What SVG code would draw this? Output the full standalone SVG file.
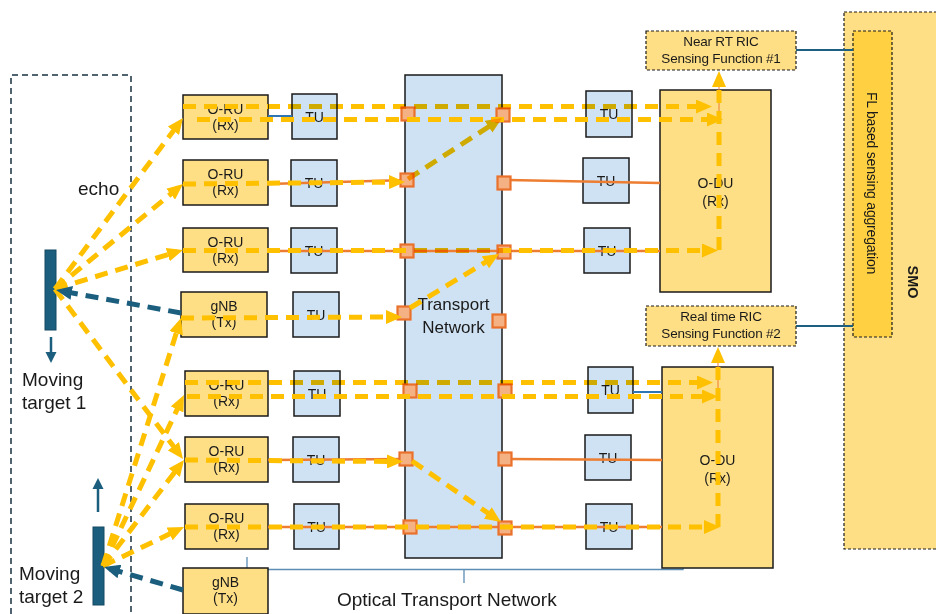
<svg xmlns="http://www.w3.org/2000/svg" width="936" height="614" viewBox="0 0 936 614">
<defs>
<style>
text{font-family:"Liberation Sans",Arial,sans-serif;fill:#1a1a1a}
.t14{font-size:14px;text-anchor:middle}
.t13{font-size:13.5px;text-anchor:middle;letter-spacing:-0.2px}
.big{font-size:19px}
.box{fill:#ffdf85;stroke:#1a1a1a;stroke-width:1.5}
.tu{fill:#cfe2f3;stroke:#1a1a1a;stroke-width:1.5}
.dbox{fill:#ffdf85;stroke:#1a1a1a;stroke-width:1.2;stroke-dasharray:3 2}
.fl{fill:#ffd042;stroke:#1a1a1a;stroke-width:1.2;stroke-dasharray:3 2}
.frame{fill:none;stroke:#1a3142;stroke-width:1.5;stroke-dasharray:6 4}
.otn{fill:none;stroke:#5b8db5;stroke-width:1.3}
.link{fill:none;stroke:#1d5f80;stroke-width:2}
.or{fill:none;stroke:#ed7d31;stroke-width:2.5}
.thin{fill:none;stroke:#ed7d31;stroke-width:1}
.bl{fill:none;stroke:#2e75b6;stroke-width:2.2}
.port{fill:#f4b183;stroke:#e9712c;stroke-width:2.2}
.y{fill:none;stroke:#ffc000;stroke-width:5;stroke-dasharray:13 8}
.mx{mix-blend-mode:multiply}
.ya{marker-end:url(#ah)}
.bd{fill:none;stroke:#1b5e7e;stroke-width:5;stroke-dasharray:13 8;marker-end:url(#bh)}
.tgt{fill:#1b5e7e;stroke:#144a63;stroke-width:1}
.move{fill:none;stroke:#1b5e7e;stroke-width:2.5}
</style>
<marker id="ah" markerUnits="userSpaceOnUse" markerWidth="16" markerHeight="14" refX="10" refY="7" orient="auto" viewBox="0 0 16 14"><path d="M0,0 L16,7 L0,14 z" fill="#ffc000"/></marker>
<marker id="bh" markerUnits="userSpaceOnUse" markerWidth="16" markerHeight="14" refX="10" refY="7" orient="auto" viewBox="0 0 16 14"><path d="M0,0 L16,7 L0,14 z" fill="#1b5e7e"/></marker>
</defs>

<!-- sensing area frame -->
<path class="frame" d="M11,614 V75 H131 V614"/>
<text class="big" x="78" y="195">echo</text>

<!-- optical transport network span -->
<g id="otn-span">
<path class="otn" d="M247,557 V569.5 H683 V557 M464,569.5 V583"/>
<text class="big" x="337" y="606">Optical Transport Network</text>
</g>

<!-- moving targets -->
<g id="target-1">
<rect class="tgt" x="45" y="250" width="11" height="80"/>
<path class="move" d="M51,337 V354"/>
<path d="M45.5,352 L56.5,352 L51,363 z" fill="#1b5e7e"/>
<text class="big" x="22" y="386">Moving</text>
<text class="big" x="22" y="409">target 1</text>
</g>
<g id="target-2">
<rect class="tgt" x="93" y="527" width="11" height="78"/>
<path class="move" d="M98,512 V487"/>
<path d="M92.5,489 L103.5,489 L98,478 z" fill="#1b5e7e"/>
<text class="big" x="19" y="580">Moving</text>
<text class="big" x="19" y="603">target 2</text>
</g>

<!-- radio units -->
<g id="oru-1"><rect class="box" x="183" y="95" width="85" height="44"/><text class="t14" x="225.5" y="113.5">O-RU</text><text class="t14" x="225.5" y="130">(Rx)</text></g>
<g id="oru-2"><rect class="box" x="183" y="160" width="85" height="45"/><text class="t14" x="225.5" y="178.5">O-RU</text><text class="t14" x="225.5" y="195">(Rx)</text></g>
<g id="oru-3"><rect class="box" x="183" y="228" width="85" height="44"/><text class="t14" x="225.5" y="246.5">O-RU</text><text class="t14" x="225.5" y="263">(Rx)</text></g>
<g id="gnb-1"><rect class="box" x="181" y="292" width="86" height="45"/><text class="t14" x="224" y="310.5">gNB</text><text class="t14" x="224" y="327">(Tx)</text></g>
<g id="oru-5"><rect class="box" x="185" y="371" width="83" height="45"/><text class="t14" x="226.5" y="389.5">O-RU</text><text class="t14" x="226.5" y="406">(Rx)</text></g>
<g id="oru-6"><rect class="box" x="185" y="437" width="83" height="45"/><text class="t14" x="226.5" y="455.5">O-RU</text><text class="t14" x="226.5" y="472">(Rx)</text></g>
<g id="oru-7"><rect class="box" x="185" y="504" width="83" height="45"/><text class="t14" x="226.5" y="522.5">O-RU</text><text class="t14" x="226.5" y="539">(Rx)</text></g>
<g id="gnb-2"><rect class="box" x="183" y="568" width="85" height="46"/><text class="t14" x="225.5" y="586.5">gNB</text><text class="t14" x="225.5" y="603">(Tx)</text></g>

<!-- transport units, radio side -->
<g id="tu-l1"><rect class="tu" x="292" y="94" width="45" height="45"/><text class="t14" x="314.5" y="121.5">TU</text></g>
<g id="tu-l2"><rect class="tu" x="291" y="160" width="46" height="46"/><text class="t14" x="314" y="188">TU</text></g>
<g id="tu-l3"><rect class="tu" x="291" y="228" width="46" height="45"/><text class="t14" x="314" y="255.5">TU</text></g>
<g id="tu-l4"><rect class="tu" x="293" y="292" width="46" height="45"/><text class="t14" x="316" y="319.5">TU</text></g>
<g id="tu-l5"><rect class="tu" x="294" y="371" width="46" height="45"/><text class="t14" x="317" y="398.5">TU</text></g>
<g id="tu-l6"><rect class="tu" x="293" y="437" width="46" height="45"/><text class="t14" x="316" y="464.5">TU</text></g>
<g id="tu-l7"><rect class="tu" x="294" y="504" width="45" height="45"/><text class="t14" x="316.5" y="531.5">TU</text></g>

<!-- transport network -->
<g id="transport-network">
<rect class="tu" x="405" y="75" width="97" height="483"/>
<text x="453.5" y="310" style="font-size:17px;text-anchor:middle">Transport</text>
<text x="453.5" y="333" style="font-size:17px;text-anchor:middle">Network</text>
</g>

<!-- transport units, DU side -->
<g id="tu-r1"><rect class="tu" x="586" y="91" width="46" height="46"/><text class="t14" x="609" y="119">TU</text></g>
<g id="tu-r2"><rect class="tu" x="583" y="158" width="46" height="45"/><text class="t14" x="606" y="185.5">TU</text></g>
<g id="tu-r3"><rect class="tu" x="584" y="228" width="46" height="45"/><text class="t14" x="607" y="255.5">TU</text></g>
<g id="tu-r5"><rect class="tu" x="588" y="367" width="45" height="46"/><text class="t14" x="610.5" y="395">TU</text></g>
<g id="tu-r6"><rect class="tu" x="585" y="435" width="46" height="45"/><text class="t14" x="608" y="462.5">TU</text></g>
<g id="tu-r7"><rect class="tu" x="586" y="504" width="46" height="45"/><text class="t14" x="609" y="531.5">TU</text></g>

<!-- distributed units -->
<g id="odu-1"><rect class="box" x="660" y="90" width="111" height="202"/><text class="t14" x="715.5" y="188">O-DU</text><text class="t14" x="715.5" y="206">(Rx)</text></g>
<g id="odu-2"><rect class="box" x="662" y="367" width="111" height="201"/><text class="t14" x="717.5" y="465">O-DU</text><text class="t14" x="717.5" y="483">(Rx)</text></g>

<!-- RIC sensing functions -->
<g id="ric-1"><rect class="dbox" x="646" y="31" width="150" height="39"/><text class="t13" x="721" y="46">Near RT RIC</text><text class="t13" x="721" y="63">Sensing Function #1</text></g>
<g id="ric-2"><rect class="dbox" x="646" y="306" width="150" height="40"/><text class="t13" x="721" y="321">Real time RIC</text><text class="t13" x="721" y="338">Sensing Function #2</text></g>

<!-- SMO with FL aggregation -->
<g id="smo">
<rect class="dbox" x="844" y="12" width="100" height="537"/>
<text transform="translate(908,282) rotate(90)" style="font-size:14.5px;font-weight:bold;text-anchor:middle">SMO</text>
</g>
<g id="fl-aggregation">
<rect class="fl" x="853" y="31" width="39" height="306"/>
<text transform="translate(867,183) rotate(90)" style="font-size:14px;text-anchor:middle;letter-spacing:-0.2px">FL based sensing aggregation</text>
</g>

<g id="connectors">
<!-- RIC to SMO links -->
<path class="link" d="M796,50 H853 M796,326 H853"/>

<!-- fronthaul segments -->
<path class="bl" d="M268,116 H292 M633,392 H662"/>
<path class="or" d="M268,184 L407,180 M504,180 L660,183"/>
<path class="or" d="M268,251 H660"/>
<path class="or" d="M268,460 L406,459 M505,459 L662,460"/>
<path class="or" d="M268,527 H662"/>
<path class="thin" d="M719,83 V115 M718,360 V392"/>

<!-- transport ports -->
<g id="ports">
<rect class="port" x="401.5" y="107.5" width="13" height="13"/>
<rect class="port" x="496.5" y="108.5" width="13" height="13"/>
<rect class="port" x="400.5" y="173.5" width="13" height="13"/>
<rect class="port" x="497.5" y="176.5" width="13" height="13"/>
<rect class="port" x="400.5" y="244.5" width="13" height="13"/>
<rect class="port" x="497.5" y="245.5" width="13" height="13"/>
<rect class="port" x="397.5" y="306.5" width="13" height="13"/>
<rect class="port" x="492.5" y="314.5" width="13" height="13"/>
<rect class="port" x="403.5" y="384.5" width="13" height="13"/>
<rect class="port" x="498.5" y="384.5" width="13" height="13"/>
<rect class="port" x="399.5" y="452.5" width="13" height="13"/>
<rect class="port" x="498.5" y="452.5" width="13" height="13"/>
<rect class="port" x="403.5" y="520.5" width="13" height="13"/>
<rect class="port" x="498.5" y="521.5" width="13" height="13"/>
</g>

<!-- echo paths from target 1 -->
<path class="y ya" d="M55,289 L179.4,122.8"/>
<path class="y ya" d="M55,289 L178.4,187.8"/>
<path class="y ya" d="M55,289 L177.3,251.7"/>
<path class="y ya" d="M55,289 L179.4,454.2"/>
<!-- echo paths from target 2 -->
<path class="y ya" d="M103,566 L179.2,323.7"/>
<path class="y ya" d="M103,566 L181.4,400.4"/>
<path class="y ya" d="M103,566 L180.4,464.8"/>
<path class="y ya" d="M103,566 L178.6,529.6"/>

<!-- illumination from gNBs -->
<path class="bd" d="M181,313 L61.9,291.1"/>
<path class="bd" d="M183,590 L109.8,568.7"/>

<!-- sensing data flows, upper O-DU -->
<path class="y" d="M183,106.5 H268"/>
<path class="y mx" d="M268,106.5 H640" style="stroke-dashoffset:85"/>
<path class="y ya" d="M640,106.5 H706" style="stroke-dashoffset:457"/>
<path class="y ya" d="M197,119.5 H717"/>
<path class="y ya" d="M183,184 L399,182"/>
<path class="y ya mx" d="M408,179 L497,121.3"/>
<path class="y" d="M183,250.5 H407"/>
<path class="y mx" d="M407,250.5 H503" style="stroke-dashoffset:224"/>
<path class="y ya" d="M503,250.5 H712" style="stroke-dashoffset:320"/>
<path class="y ya" d="M719,250 V77"/>
<path class="y ya" d="M181,318 L396,317"/>
<path class="y ya" d="M410,308 L493.9,257.1"/>

<!-- sensing data flows, lower O-DU -->
<path class="y" d="M185,382.5 H268"/>
<path class="y mx" d="M268,382.5 H640" style="stroke-dashoffset:83"/>
<path class="y ya" d="M640,382.5 H707" style="stroke-dashoffset:455"/>
<path class="y ya" d="M187,396.5 H712"/>
<path class="y ya" d="M185,460 L397,461.5"/>
<path class="y ya" d="M412,461 L496,518.6"/>
<path class="y ya" d="M185,527 H714"/>
<path class="y ya" d="M718,527 V353"/>
</g>
</svg>
